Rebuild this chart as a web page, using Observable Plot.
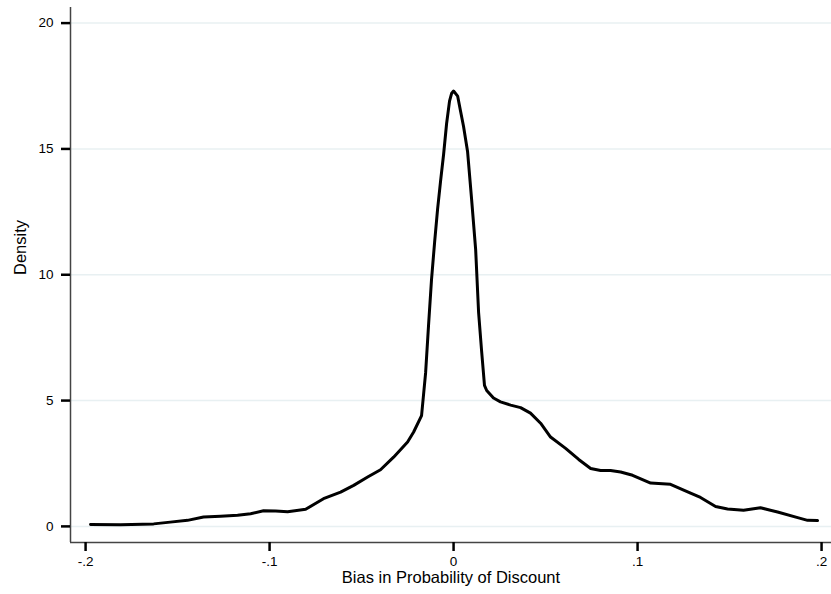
<!DOCTYPE html>
<html><head><meta charset="utf-8">
<script src="https://cdn.jsdelivr.net/npm/d3@7"></script>
<script src="https://cdn.jsdelivr.net/npm/@observablehq/plot@0.6"></script>
<style>body{margin:0;background:#fff}</style>
</head><body><div id="chart"></div>
<script>
const biasX = [-0.1973,-0.181,-0.163,-0.154,-0.1446,-0.1359,-0.1266,-0.1174,-0.1103,-0.1033,-0.0967,-0.0902,-0.0804,-0.0707,-0.0614,-0.0543,-0.0467,-0.0397,-0.0326,-0.025,-0.0217,-0.0174,-0.0152,-0.0136,-0.012,-0.0103,-0.0087,-0.0071,-0.0054,-0.0038,-0.0022,-0.0011,0,0.0022,0.0038,0.0054,0.0076,0.0098,0.012,0.0136,0.0152,0.0168,0.018,0.0217,0.0255,0.031,0.0364,0.0418,0.0473,0.0527,0.0609,0.068,0.0745,0.0799,0.0853,0.0908,0.0973,0.1071,0.1179,0.1288,0.1342,0.1424,0.1489,0.1576,0.1668,0.1761,0.187,0.1924,0.1978];
const density = [0.08,0.07,0.1,0.17,0.24,0.37,0.4,0.44,0.5,0.62,0.61,0.58,0.68,1.1,1.36,1.63,1.96,2.25,2.75,3.35,3.75,4.4,6.1,8.0,9.8,11.3,12.6,13.7,14.8,16.0,16.9,17.2,17.3,17.1,16.5,15.9,14.9,13.0,11.0,8.5,7.0,5.6,5.4,5.1,4.95,4.82,4.72,4.5,4.1,3.55,3.1,2.66,2.3,2.22,2.22,2.16,2.03,1.72,1.67,1.32,1.15,0.79,0.69,0.64,0.74,0.57,0.35,0.24,0.23];
const xTicks = [-0.2, -0.1, 0, 0.1, 0.2];
const xTickLabels = ["-.2", "-.1", "0", ".1", ".2"];
const yTicks = [0, 5, 10, 15, 20];
const xTitle = "Bias in Probability of Discount";
const yTitle = "Density";

const data = biasX.map((x, i) => ({x, y: density[i]}));
const xDomain = [-0.2082, 0.2054];
const yDomain = [-0.64, 20.62];
const font = "'Liberation Sans', Arial, Helvetica, sans-serif";

const chart = Plot.plot({
  width: 831, height: 594,
  marginLeft: 70, marginRight: 0, marginTop: 7, marginBottom: 52,
  style: {fontFamily: font, fontSize: "13.5px", background: "#fff", color: "#000"},
  x: {domain: xDomain},
  y: {domain: yDomain},
  marks: [
    Plot.gridY(yTicks, {stroke: "#e8f0f2", strokeOpacity: 1, strokeWidth: 1.5}),
    Plot.ruleX([xDomain[0]], {stroke: "#444", strokeWidth: 1.5}),
    Plot.ruleY([yDomain[0]], {stroke: "#444", strokeWidth: 1.5}),
    Plot.axisY(yTicks, {tickSize: 9, tickPadding: 8, strokeWidth: 2.5, stroke: "#000", label: null, fontSize: 13.5}),
    Plot.axisX(xTicks, {tickSize: 9, tickPadding: 5, strokeWidth: 2.5, stroke: "#000", label: null, fontSize: 13.5,
      tickFormat: d => xTickLabels[xTicks.indexOf(d)]}),
    Plot.line(data, {x: "x", y: "y", stroke: "#000", strokeWidth: 3, strokeLinejoin: "round"}),
    Plot.text([xTitle], {frameAnchor: "bottom", dy: 40, fontSize: 16.5, fill: "#000"}),
    Plot.text([yTitle], {frameAnchor: "left", dx: -50, rotate: -90, fontSize: 16.5, fill: "#000"})
  ]
});
document.getElementById("chart").appendChild(chart);
</script>
</body></html>
